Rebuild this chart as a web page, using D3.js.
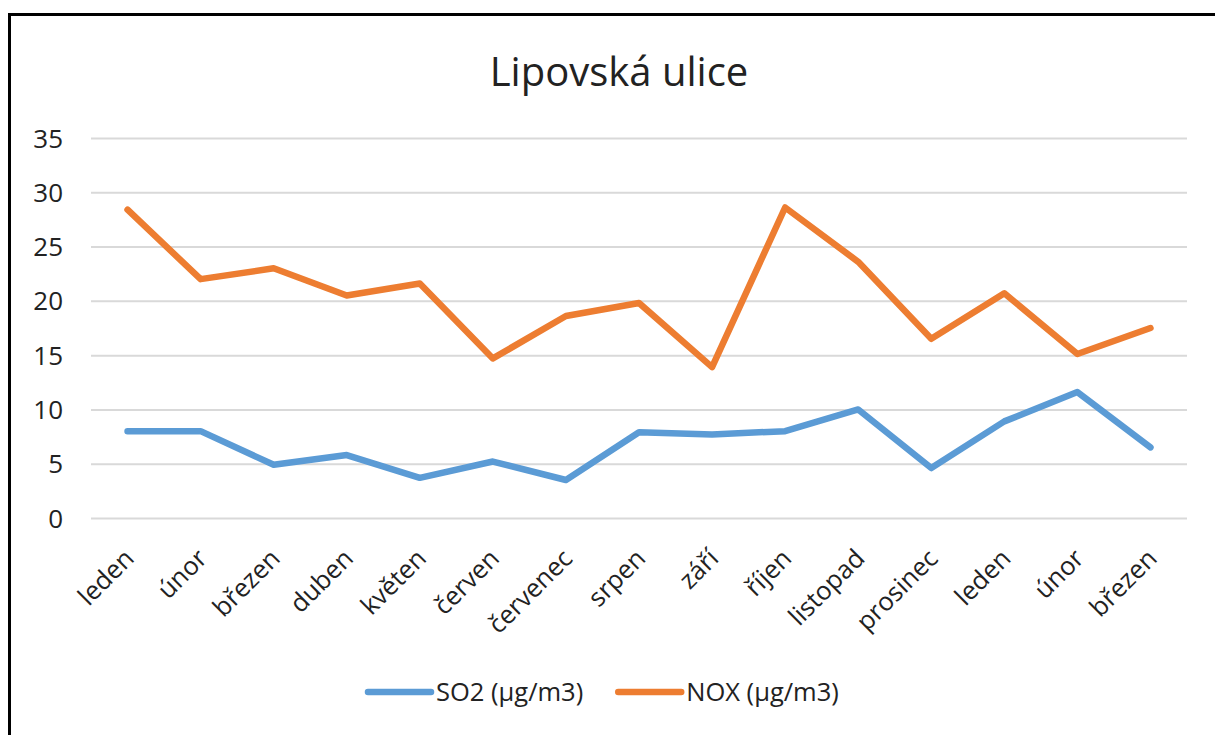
<!DOCTYPE html>
<html>
<head>
<meta charset="utf-8">
<script src="https://cdn.jsdelivr.net/npm/d3@7"></script>
<style>
  html, body { margin: 0; padding: 0; background: #fff; }
  svg { display: block; }
  text { font-family: "Open Sans", "Noto Sans", sans-serif; fill: #222; }
</style>
</head>
<body>
<svg id="chart" width="1215" height="735"></svg>
<script>
const title = "Lipovská ulice";
const categories = ["leden", "únor", "březen", "duben", "květen", "červen", "červenec", "srpen", "září", "říjen", "listopad", "prosinec", "leden", "únor", "březen"];
const so2 = [8.0, 8.0, 4.9, 5.8, 3.7, 5.2, 3.5, 7.9, 7.7, 8.0, 10.0, 4.6, 8.9, 11.6, 6.5];
const nox = [28.4, 22.0, 23.0, 20.5, 21.6, 14.7, 18.6, 19.8, 13.9, 28.6, 23.6, 16.5, 20.7, 15.1, 17.5];
const seriesNames = ["SO2 (µg/m3)", "NOX (µg/m3)"];
const seriesColors = ["#5B9BD5", "#ED7D31"];
const yTicks = [0, 5, 10, 15, 20, 25, 30, 35];

const svg = d3.select("#chart");
const W = 1215, H = 735;
svg.append("rect").attr("width", W).attr("height", H).attr("fill", "#fff");

// frame (left and top borders visible)
svg.append("path")
  .attr("d", `M9.5,${H + 5} L9.5,14.5 L${W + 5},14.5`)
  .attr("fill", "none").attr("stroke", "#000").attr("stroke-width", 3);

const plot = { left: 91, right: 1187, top: 138, bottom: 518 };

const x = d3.scaleBand().domain(d3.range(categories.length))
  .range([plot.left, plot.right]).padding(0);
const y = d3.scaleLinear().domain([0, 35]).range([plot.bottom, plot.top]);

// title
svg.append("text").attr("x", 619).attr("y", 86)
  .attr("text-anchor", "middle").style("font-size", "40px")
  .text(title);

// gridlines
const yAxis = d3.axisLeft(y).tickValues(yTicks)
  .tickSize(-(plot.right - plot.left)).tickPadding(28)
  .tickFormat(d3.format("d"));
const gy = svg.append("g").attr("transform", `translate(${plot.left},0)`).call(yAxis);
gy.select(".domain").remove();
gy.selectAll(".tick line").attr("stroke", "#D9D9D9").attr("stroke-width", 2);
gy.selectAll(".tick text").style("font-size", "26px").attr("fill", "#222")
  .attr("dy", "0.35em");

// x labels
const xAxis = d3.axisBottom(x).tickFormat(i => categories[i]).tickSize(0).tickPadding(0);
const gx = svg.append("g").attr("transform", `translate(0,${plot.bottom})`).call(xAxis);
gx.select(".domain").remove();
gx.selectAll(".tick text")
  .style("font-size", "25.5px").attr("fill", "#222")
  .attr("text-anchor", "end")
  .attr("y", 0).attr("dy", 0)
  .attr("transform", "translate(8,42) rotate(-45)");

// lines
const line = d3.line().x((d, i) => x(i) + x.bandwidth() / 2).y(d => y(d));
[so2, nox].forEach((vals, k) => {
  svg.append("path").datum(vals)
    .attr("d", line)
    .attr("fill", "none")
    .attr("stroke", seriesColors[k])
    .attr("stroke-width", 6.5)
    .attr("stroke-linejoin", "round")
    .attr("stroke-linecap", "round");
});

// legend
const legY = 692;
let lx = 368;
seriesNames.forEach((name, k) => {
  svg.append("line").attr("x1", lx).attr("x2", lx + 63)
    .attr("y1", legY).attr("y2", legY)
    .attr("stroke", seriesColors[k]).attr("stroke-width", 6.5)
    .attr("stroke-linecap", "round");
  const t = svg.append("text").attr("x", lx + 68).attr("y", legY).attr("dy", "0.35em")
    .style("font-size", "25.5px").text(name);
  const w = t.node().getComputedTextLength();
  lx = lx + 68 + w + 35;
});
</script>
</body>
</html>
